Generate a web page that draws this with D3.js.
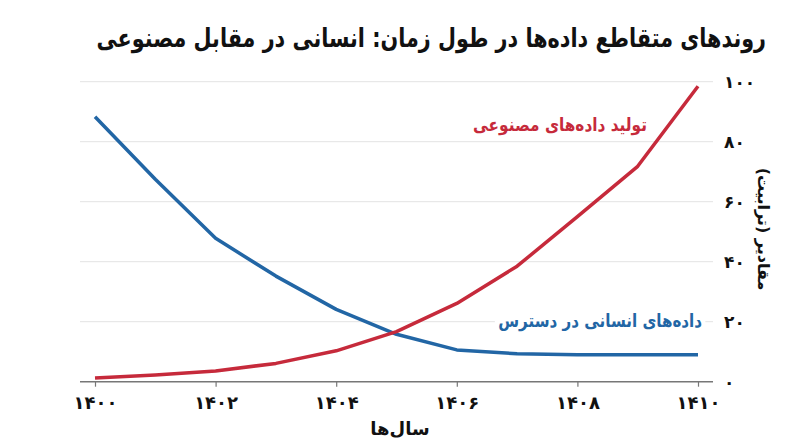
<!DOCTYPE html>
<html lang="fa">
<head>
<meta charset="utf-8">
<script src="https://cdn.jsdelivr.net/npm/d3@7"></script>
<style>
  html, body { margin: 0; padding: 0; background: #fff; }
  svg text { font-family: "DejaVu Sans", sans-serif; }
</style>
</head>
<body>
<svg id="chart" width="800" height="447"></svg>
<script>
// داده‌ها
const years = [1400, 1401, 1402, 1403, 1404, 1405, 1406, 1407, 1408, 1409, 1410];
const humanData = [88.3, 67.5, 47.8, 35.2, 24.1, 15.8, 10.6, 9.3, 9.0, 9.0, 9.0];
const syntheticData = [1.2, 2.2, 3.6, 6.1, 10.3, 16.7, 26.1, 38.5, 55, 71.8, 98.5];
const xTicks = [1400, 1402, 1404, 1406, 1408, 1410];
const xTickLabels = ["۱۴۰۰", "۱۴۰۲", "۱۴۰۴", "۱۴۰۶", "۱۴۰۸", "۱۴۱۰"];
const yTicks = [0, 20, 40, 60, 80, 100];
const yTickLabels = ["۰", "۲۰", "۴۰", "۶۰", "۸۰", "۱۰۰"];

const svg = d3.select("#chart");
const red = "#c62a3b";
const blue = "#2266a5";

const x = d3.scaleLinear().domain([1400, 1410]).range([95, 698]);
const y = d3.scaleLinear().domain([0, 100]).range([381.7, 81.7]);

// متن راست‌چین که در صورت نیاز به صورت افقی فشرده می‌شود
function rtlText(parent, str, xr, yc, w, size, color) {
    const g = parent.append("g");
    const t = g.append("text")
        .attr("x", 0).attr("y", 0)
        .attr("text-anchor", "start")
        .attr("direction", "rtl")
        .attr("dominant-baseline", "middle")
        .attr("font-size", size).attr("font-weight", "bold")
        .attr("fill", color)
        .text(str);
    const cur = t.node().getComputedTextLength();
    const k = cur > w ? w / cur : 1;
    g.attr("transform", `translate(${xr},${yc}) scale(${k},1)`);
    return g;
}

// عنوان
rtlText(svg, "روندهای متقاطع داده‌ها در طول زمان: انسانی در مقابل مصنوعی", 766, 40, 670, 26, "#111");

// خطوط شبکه
svg.append("g")
    .selectAll("line")
    .data(yTicks.slice(1))
    .enter().append("line")
    .attr("x1", 80).attr("x2", 713)
    .attr("y1", d => y(d)).attr("y2", d => y(d))
    .attr("stroke", "#e3e3e3").attr("stroke-width", 1);

// محور افقی
const xAxis = d3.axisBottom(x)
    .tickValues(xTicks)
    .tickSize(5)
    .tickFormat((d, i) => xTickLabels[i]);
const gx = svg.append("g")
    .attr("transform", `translate(0,${y(0)})`)
    .call(xAxis);
gx.select(".domain").remove();
gx.append("line")
    .attr("x1", 80).attr("x2", 713)
    .attr("stroke", "#777").attr("stroke-width", 1.5);
gx.selectAll(".tick line").attr("stroke", "#777").attr("stroke-width", 1.2);
gx.selectAll(".tick text")
    .attr("y", 15)
    .attr("font-size", 18).attr("font-weight", "bold")
    .attr("fill", "#111")
    .style("font-family", "DejaVu Sans");

svg.append("text")
    .attr("x", 400).attr("y", 435)
    .attr("text-anchor", "middle")
    .attr("font-size", 18).attr("font-weight", "bold")
    .attr("fill", "#111")
    .text("سال‌ها");

// محور عمودی (سمت راست)
const yAxis = d3.axisRight(y)
    .tickValues(yTicks)
    .tickSize(0)
    .tickFormat((d, i) => yTickLabels[i]);
const gy = svg.append("g")
    .attr("transform", "translate(718,0)")
    .call(yAxis);
gy.select(".domain").remove();
gy.selectAll(".tick text")
    .attr("x", 6)
    .attr("font-size", 17).attr("font-weight", "bold")
    .attr("fill", "#111")
    .style("font-family", "DejaVu Sans");

svg.append("text")
    .attr("transform", "translate(758,229) rotate(90)")
    .attr("text-anchor", "middle")
    .attr("direction", "rtl")
    .attr("font-size", 16).attr("font-weight", "bold")
    .attr("fill", "#111")
    .text("مقادیر (ترابیت)");

// خطوط داده
const line = d3.line()
    .x((d, i) => x(years[i]))
    .y(d => y(d));

svg.append("path")
    .datum(humanData)
    .attr("d", line)
    .attr("fill", "none")
    .attr("stroke", blue).attr("stroke-width", 3.5)
    .attr("stroke-linejoin", "round");

svg.append("path")
    .datum(syntheticData)
    .attr("d", line)
    .attr("fill", "none")
    .attr("stroke", red).attr("stroke-width", 3.5)
    .attr("stroke-linejoin", "round");

// برچسب سری‌ها با زمینه سفید
function seriesLabel(str, xr, yc, w, color) {
    const g = rtlText(svg, str, xr, yc, w, 18, color);
    const b = g.node().getBBox();
    g.insert("rect", "text")
        .attr("x", b.x - 4).attr("y", b.y)
        .attr("width", b.width + 8).attr("height", b.height)
        .attr("fill", "#fff");
    return g;
}
seriesLabel("تولید داده‌های مصنوعی", 647, 126, 174, red);
seriesLabel("داده‌های انسانی در دسترس", 702, 322, 204, blue);
</script>
</body>
</html>
